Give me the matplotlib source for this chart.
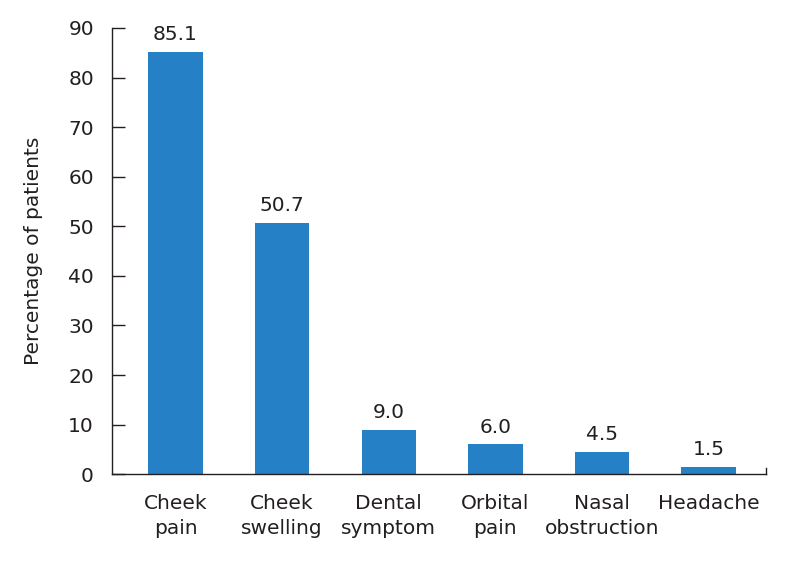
import numpy as np
import matplotlib.pyplot as plt

plt.rcParams['font.family'] = ['DejaVu Sans']

categories = ['Cheek\npain', 'Cheek\nswelling', 'Dental\nsymptom', 'Orbital\npain',
              'Nasal\nobstruction', 'Headache']
values = [85.1, 50.7, 9.0, 6.0, 4.5, 1.5]
labels = ['85.1', '50.7', '9.0', '6.0', '4.5', '1.5']

txt = '#231f20'
bar_color = '#2680c6'
fs = 14.5

fig = plt.figure(figsize=(7.96, 5.70), dpi=100)
ax = fig.add_axes([0.1407, 0.168, 0.8213, 0.783])

x = np.arange(len(categories))
ax.bar(x, values, width=0.51, color=bar_color)

for xi, v, lab in zip(x, values, labels):
    ax.text(xi, v + 1.6, lab, ha='center', va='bottom', fontsize=fs, color=txt)

ax.set_xlim(-0.595, 5.535)
ax.set_ylim(0, 90)
ax.set_yticks(np.arange(0, 91, 10))
ax.set_xticks(x)
ax.set_xticklabels(categories, fontsize=fs, color=txt, linespacing=1.4)
ax.tick_params(axis='y', direction='in', length=9, width=1, labelsize=fs,
               labelcolor=txt, color=txt, pad=13)
ax.tick_params(axis='x', length=0, pad=14)

for s in ['top', 'right']:
    ax.spines[s].set_visible(False)
for s in ['left', 'bottom']:
    ax.spines[s].set_color(txt)
    ax.spines[s].set_linewidth(1)

# small tick at right end of x axis
ax.plot([1, 1], [0, 0.014], transform=ax.transAxes, color=txt, lw=1, clip_on=False)

ax.set_ylabel('Percentage of patients', fontsize=fs, color=txt, labelpad=18)

fig.savefig('out.png', dpi=100)
